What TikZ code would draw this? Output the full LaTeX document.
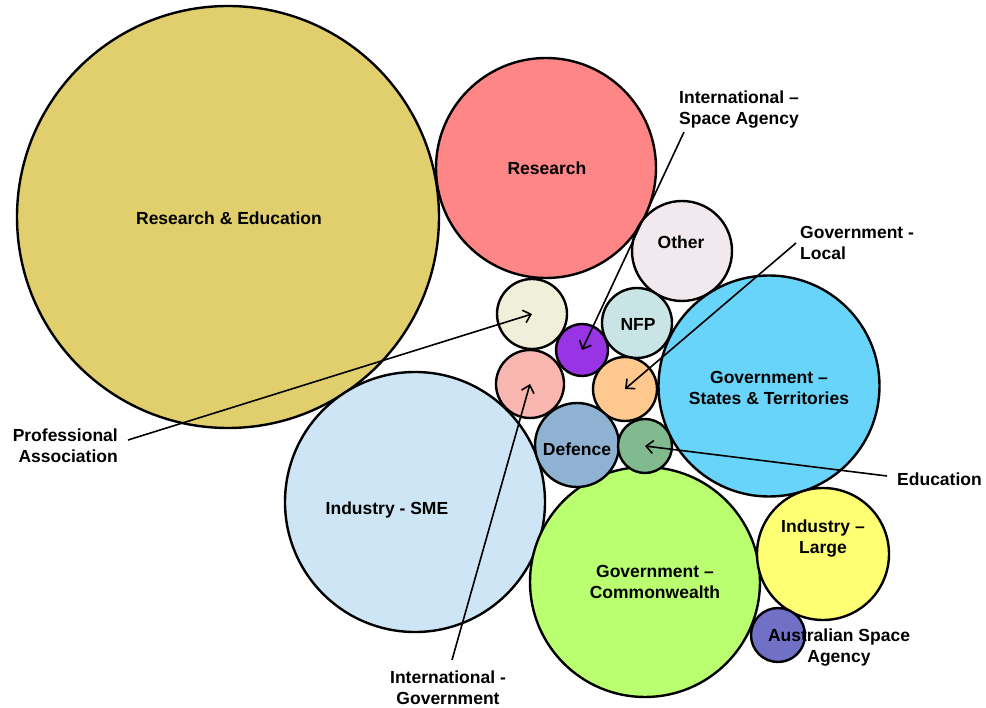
\documentclass[tikz,border=0pt]{standalone}
\usepackage{fontspec}
\setmainfont{Liberation Sans}
\usetikzlibrary{arrows.meta}
\definecolor{cRE}{RGB}{224,207,108}
\definecolor{cRes}{RGB}{255,134,134}
\definecolor{cOther}{RGB}{242,233,238}
\definecolor{cNFP}{RGB}{200,228,228}
\definecolor{cGS}{RGB}{104,212,250}
\definecolor{cPA}{RGB}{240,240,218}
\definecolor{cISA}{RGB}{153,52,228}
\definecolor{cIG}{RGB}{249,182,176}
\definecolor{cGL}{RGB}{255,200,142}
\definecolor{cDef}{RGB}{143,178,210}
\definecolor{cEdu}{RGB}{128,186,142}
\definecolor{cSME}{RGB}{205,229,244}
\definecolor{cGC}{RGB}{185,255,112}
\definecolor{cIL}{RGB}{255,255,115}
\definecolor{cASA}{RGB}{112,112,198}
\tikzset{
  bub/.style={circle, draw=black, line width=2.4pt, inner sep=0pt, outer sep=0pt},
  lbl/.style={font=\fontsize{17.5}{21}\selectfont\bfseries, align=center, inner sep=0pt},
  ptr/.style={line width=1.6pt, -{Straight Barb[length=7pt,width=13pt]}, shorten >=0pt}
}
\begin{document}
\begin{tikzpicture}[x=1pt,y=-1pt]
\useasboundingbox (0,0) rectangle (986,708);
% bubbles
\node[bub, fill=cRE,    minimum size=422pt] (re)    at (228,217) {};
\node[bub, fill=cRes,   minimum size=220pt] (res)   at (546,168) {};
\node[bub, fill=cOther, minimum size=100pt] (oth)   at (682,251) {};
\node[bub, fill=cGS,    minimum size=221pt] (gs)    at (769,386) {};
\node[bub, fill=cSME,   minimum size=260pt] (sme)   at (415,502) {};
\node[bub, fill=cGC,    minimum size=230pt] (gc)    at (645,582) {};
\node[bub, fill=cIL,    minimum size=132pt] (il)    at (823,554) {};
\node[bub, fill=cASA,   minimum size=54pt]  (asa)   at (778,635) {};
\node[bub, fill=cPA,    minimum size=70pt]  (pa)    at (532,314) {};
\node[bub, fill=cISA,   minimum size=52pt]  (isa)   at (582,350) {};
\node[bub, fill=cNFP,   minimum size=70pt]  (nfp)   at (637,323) {};
\node[bub, fill=cIG,    minimum size=68pt]  (ig)    at (530,384) {};
\node[bub, fill=cGL,    minimum size=64pt]  (gl)    at (625,389) {};
\node[bub, fill=cDef,   minimum size=84pt]  (def)   at (577,445) {};
\node[bub, fill=cEdu,   minimum size=54pt]  (edu)   at (645,446) {};
% bubble texts
\node[lbl] (tre)  at (229,218) {Research \& Education};
\node[lbl] (tres) at (547,168) {Research};
\node[lbl] (toth) at (681,242) {Other};
\node[lbl] (tnfp) at (638,324) {NFP};
\node[lbl] (tgs)  at (769,388) {Government –\\States \& Territories};
\node[lbl] (tdef) at (577,449) {Defence};
\node[lbl] (tsme) at (387,510) {Industry - SME};
\node[lbl] (tgc)  at (655,582) {Government –\\Commonwealth};
\node[lbl] (til)  at (823,539) {Industry –\\Large};
\node[lbl] (tasa) at (839,648) {Australian Space\\Agency};
% outside labels
\node[lbl, align=right, anchor=east] (lpa) at (118,446) {Professional\\Association};
\node[lbl, align=left, anchor=west] (lisa) at (679,110) {International –\\Space Agency};
\node[lbl, align=left, anchor=west] (lgl) at (800,243) {Government -\\Local};
\node[lbl, anchor=west] (ledu) at (897,479) {Education};
\node[lbl] (lig) at (448,688) {International -\\Government};
% pointers
\coordinate (spa)  at (128,440);
\coordinate (sisa) at (684,132);
\coordinate (sgl)  at (796,243);
\coordinate (sedu) at (887,476);
\coordinate (sig)  at (452,660);
\draw[ptr] (spa)  -- (pa.center);
\draw[ptr] (sisa) -- (isa.center);
\draw[ptr] (sgl)  -- (gl.center);
\draw[ptr] (sedu) -- (edu.center);
\draw[ptr] (sig)  -- (ig.center);
\end{tikzpicture}
\end{document}
